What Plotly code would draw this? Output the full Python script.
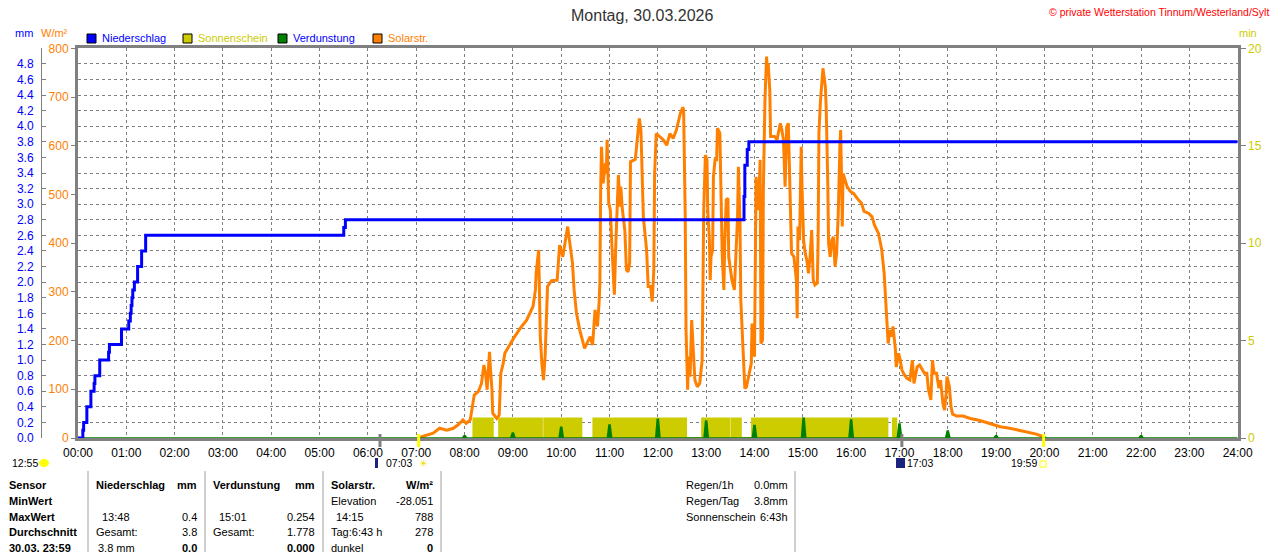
import plotly.graph_objects as go

# the page keeps the browser's 8px body margin, so the figure is 8px smaller
OFF = 8
W, H = 1280 - OFF, 552 - OFF

# ---- data ----
hour_labels = ["%02d:00" % h for h in range(25)]

# precipitation, cumulative mm (step line)
rain_times = ["00:00", "00:06", "00:07", "00:11", "00:16", "00:20", "00:21", "00:27", "00:38",
              "00:39", "00:54", "01:03", "01:05", "01:06", "01:07", "01:08", "01:10", "01:14",
              "01:19", "01:24", "05:30", "05:32", "13:47", "13:48", "13:51", "13:53", "24:00"]
rain_mm = [0, 0.1, 0.2, 0.4, 0.6, 0.7, 0.8, 1.0, 1.1,
           1.2, 1.4, 1.5, 1.6, 1.7, 1.8, 1.9, 2.0, 2.2,
           2.4, 2.6, 2.7, 2.8, 3.1, 3.5, 3.7, 3.8, 3.8]

# sunshine periods (min per minute)
sun_start = ["08:11", "08:43", "09:39", "10:40", "11:49", "12:55", "13:32", "13:57", "16:52"]
sun_end = ["08:35", "09:36", "10:25", "11:47", "12:35", "13:29", "13:43", "16:45", "16:56"]
sun_min = 1

# evaporation, mm per hour
evap_times = ["01:00", "08:00", "09:00", "10:00", "11:00", "12:00", "13:00", "14:00",
              "15:01", "16:00", "17:00", "18:00", "19:00", "20:00", "22:00"]
evap_mm = [0.005, 0.03, 0.065, 0.137, 0.167, 0.24, 0.218, 0.16,
           0.254, 0.23, 0.18, 0.09, 0.03, 0.01, 0.03]

# solar radiation W/m2
solar_times = [
    "07:03", "07:07", "07:21", "07:29", "07:38", "07:46", "07:52", "07:58", "08:02", "08:07",
    "08:09", "08:12", "08:17", "08:21", "08:24", "08:26", "08:28", "08:31", "08:32", "08:34",
    "08:35", "08:40", "08:43", "08:44", "08:45", "08:48", "08:50", "09:01", "09:09", "09:17",
    "09:25", "09:28", "09:29", "09:32", "09:33", "09:34", "09:36", "09:38", "09:40", "09:41",
    "09:43", "09:48", "09:55", "09:58", "10:02", "10:08", "10:11", "10:14", "10:16", "10:19",
    "10:23", "10:29", "10:36", "10:39", "10:42", "10:45", "10:47", "10:48", "10:49", "10:50",
    "10:52", "10:55", "10:56", "10:57", "10:59", "11:01", "11:03", "11:05", "11:06", "11:08",
    "11:10", "11:11", "11:13", "11:14", "11:16", "11:19", "11:21", "11:23", "11:25", "11:26",
    "11:32", "11:34", "11:37", "11:39", "11:42", "11:46", "11:48", "11:51", "11:53", "11:55",
    "11:56", "11:58", "12:02", "12:07", "12:11", "12:15", "12:19", "12:23", "12:28", "12:31",
    "12:32", "12:34", "12:35", "12:37", "12:38", "12:40", "12:42", "12:44", "12:46", "12:49",
    "12:52", "12:55", "12:56", "12:57", "12:59", "13:01", "13:02", "13:04", "13:05", "13:06",
    "13:08", "13:09", "13:11", "13:13", "13:14", "13:17", "13:19", "13:20", "13:22", "13:23",
    "13:25", "13:27", "13:28", "13:31", "13:32", "13:35", "13:37", "13:39", "13:40", "13:42",
    "13:43", "13:46", "13:48", "13:50", "13:53", "13:56", "13:57", "13:59", "14:00", "14:01",
    "14:02", "14:05", "14:07", "14:08", "14:10", "14:11", "14:13", "14:15", "14:16", "14:17",
    "14:19", "14:20", "14:23", "14:25", "14:28", "14:32", "14:34", "14:36", "14:38", "14:40",
    "14:42", "14:44", "14:46", "14:49", "14:52", "14:53", "14:54", "14:56", "14:58", "14:59",
    "15:01", "15:03", "15:05", "15:07", "15:09", "15:11", "15:13", "15:15", "15:18", "15:19",
    "15:20", "15:22", "15:24", "15:25", "15:28", "15:29", "15:31", "15:32", "15:34", "15:36",
    "15:38", "15:40", "15:42", "15:44", "15:46", "15:47", "15:48", "15:49", "15:50", "15:52",
    "15:55", "15:59", "16:03", "16:09", "16:13", "16:16", "16:22", "16:26", "16:29", "16:34",
    "16:38", "16:41", "16:43", "16:45", "16:46", "16:48", "16:50", "16:52", "16:55", "16:56",
    "16:59", "17:01", "17:03", "17:05", "17:09", "17:13", "17:16", "17:18", "17:22", "17:25",
    "17:28", "17:31", "17:34", "17:36", "17:39", "17:41", "17:43", "17:46", "17:49", "17:51",
    "17:54", "17:56", "17:58", "17:59", "18:02", "18:04", "18:06", "18:11", "18:19", "18:28",
    "18:40", "18:52", "19:05", "19:17", "19:38", "19:50", "19:58", "19:59"]
solar_wm2 = [
    0, 3, 10, 20, 16, 20, 27, 37, 30, 37,
    57, 88, 95, 112, 150, 133, 99, 177, 146, 99,
    51, 40, 47, 78, 133, 153, 174, 205, 225, 242,
    270, 304, 341, 386, 311, 208, 153, 119, 167, 235,
    311, 323, 324, 396, 372, 434, 393, 359, 304, 256,
    222, 184, 208, 191, 263, 229, 277, 318, 509, 598,
    523, 564, 543, 612, 482, 468, 393, 318, 294, 406,
    475, 540, 475, 516, 468, 427, 345, 341, 359, 567,
    572, 612, 656, 632, 454, 386, 311, 311, 280, 345,
    543, 625, 619, 612, 601, 625, 615, 632, 667, 679,
    673, 454, 222, 99, 167, 126, 242, 181, 119, 105,
    112, 160, 283, 468, 581, 571, 468, 406, 324, 372,
    386, 536, 571, 571, 636, 626, 454, 372, 304, 400,
    489, 492, 372, 331, 324, 304, 372, 454, 557, 441,
    283, 174, 102, 105, 126, 153, 235, 208, 167, 386,
    536, 468, 571, 194, 201, 509, 694, 783, 755, 769,
    714, 619, 619, 619, 612, 646, 632, 612, 516, 639,
    646, 475, 379, 372, 324, 246, 434, 406, 598, 516,
    406, 379, 365, 338, 372, 427, 324, 314, 318, 406,
    626, 694, 755, 759, 721, 680, 523, 400, 372, 406,
    413, 352, 379, 461, 598, 632, 543, 434, 543, 530,
    516, 506, 502, 489, 482, 465, 461, 454, 437, 420,
    386, 338, 283, 235, 194, 222, 208, 229, 181, 146,
    174, 160, 140, 133, 123, 119, 160, 112, 146, 150,
    140, 133, 133, 99, 78, 160, 133, 133, 102, 119,
    71, 57, 92, 126, 105, 64, 49, 45, 45, 40,
    36, 30, 23, 20, 13, 8, 3, 0]

# sun / moon events below the time axis
event_times = ["06:15", "07:03", "17:03", "19:59"]
event_colors = ["#808080", "#ffff00", "#808080", "#ffff00"]

mm_ticks = [round(0.2 * i, 1) for i in range(25)]
wm2_ticks = list(range(0, 801, 100))
min_ticks = [0, 5, 10, 15, 20]


def hrs(t):
    h, m = t.split(":")
    return int(h) + int(m) / 60.0


# positions below are given in screen pixels
def px(x):
    return (x - OFF) / W


def py(y):
    return 1 - (y - OFF) / H


BLUE = "#0000ff"
ORANGE = "#ff8000"
OLIVE = "#cccc00"
GREEN = "#008000"
GRAY = "#808080"
FONT = "Liberation Sans, Arial, sans-serif"

# sunshine blocks
sx, sy = [], []
for s, e in zip(sun_start, sun_end):
    sx += [hrs(s), hrs(s), hrs(e), hrs(e)]
    sy += [0, sun_min, sun_min, 0]

# evaporation spikes on a zero baseline
ex, ey = [0], [0]
for t, v in zip(evap_times, evap_mm):
    h = hrs(t)
    ex += [h - 0.045, h - 0.012, h + 0.012, h + 0.045]
    ey += [0, v, v, 0]
ex.append(24)
ey.append(0)

fig = go.Figure()

# overlay order: y (sunshine) at the bottom, then y2 (solar), then y3 (mm)
fig.add_trace(go.Scatter(x=sx, y=sy, yaxis="y", mode="lines", fill="tozeroy",
                         fillcolor=OLIVE, line=dict(color=OLIVE, width=2),
                         name="Sonnenschein"))
fig.add_trace(go.Scatter(x=[hrs(t) for t in solar_times], y=solar_wm2, yaxis="y2",
                         mode="lines", line=dict(color=ORANGE, width=3), name="Solarstr."))
fig.add_trace(go.Scatter(x=ex, y=ey, yaxis="y3", mode="lines", fill="tozeroy",
                         fillcolor=GREEN, line=dict(color=GREEN, width=1.5),
                         name="Verdunstung"))
fig.add_trace(go.Scatter(x=[hrs(t) for t in rain_times], y=rain_mm, yaxis="y3",
                         mode="lines", line=dict(color=BLUE, width=3, shape="hv"),
                         name="Niederschlag"))

x0, x1 = 78, 1237.7
ybot, ytop = 438, 48.3
ydom = [py(ybot), py(ytop)]

fig.update_layout(
    width=W, height=H,
    margin=dict(l=0, r=0, t=0, b=0, autoexpand=False),
    paper_bgcolor="white", plot_bgcolor="white",
    showlegend=False,
    font=dict(family=FONT, size=12, color="black"),
    xaxis=dict(domain=[px(x0), px(x1)], range=[0, 24], tickvals=list(range(25)),
               ticktext=hour_labels, showgrid=True, gridcolor=GRAY, griddash="3px,3px",
               gridwidth=1, showline=True, linecolor=GRAY, linewidth=3, mirror=True,
               ticks="", zeroline=False, automargin=False, ticklabelstandoff=2,
               layer="below traces", tickfont=dict(size=12, color="black")),
    yaxis=dict(domain=ydom, range=[0, 20], side="right", tickvals=min_ticks, showgrid=False,
               zeroline=False, showline=True, linecolor=GRAY, linewidth=3, mirror=True,
               ticks="outside", ticklen=5, tickcolor=GRAY, automargin=False,
               tickfont=dict(size=12, color=OLIVE)),
    yaxis2=dict(domain=ydom, range=[0, 800], overlaying="y", anchor="x", side="left",
                tickvals=wm2_ticks, showgrid=False, zeroline=False, showline=False,
                ticks="outside", ticklen=6, tickcolor=GRAY, tickwidth=1, automargin=False,
                tickfont=dict(size=12, color=ORANGE)),
    yaxis3=dict(domain=ydom, range=[0, 5], overlaying="y", anchor="free", side="left",
                position=px(41), tickvals=mm_ticks, tickformat=".1f", showgrid=True,
                gridcolor=GRAY, griddash="3px,3px", gridwidth=1, zeroline=False,
                showline=True, linecolor=GRAY, linewidth=1, ticks="inside", ticklen=4,
                tickcolor=GRAY, automargin=False, ticklabelstandoff=5,
                tickfont=dict(size=12, color=BLUE)),
)

ann = []
shapes = []


def text(x, y, s, color="black", size=11, anchor="left", bold=False):
    if bold:
        s = "<b>%s</b>" % s
    ann.append(dict(x=px(x), y=py(y), xref="paper", yref="paper", text=s, showarrow=False,
                    xanchor=anchor, yanchor="middle", borderpad=0,
                    font=dict(family=FONT, size=size, color=color)))


# title, copyright, axis units
text(642, 16, "Montag, 30.03.2026", color="#333333", size=16, anchor="center")
text(1048, 12, "© private Wetterstation Tinnum/Westerland/Sylt", color="#ff0000", size=10.5)
text(14, 33, "mm", color=BLUE, size=11)
text(40, 33, "W/m²", color=ORANGE, size=11)
text(1238, 33, "min", color=OLIVE, size=11)

# legend
legend = [(91, BLUE, "Niederschlag", BLUE), (187, OLIVE, "Sonnenschein", OLIVE),
          (282, GREEN, "Verdunstung", BLUE), (377, ORANGE, "Solarstr.", ORANGE)]
for lx, fc, lab, tc in legend:
    shapes.append(dict(type="rect", xref="paper", yref="paper", x0=px(lx - 4), x1=px(lx + 5),
                       y0=py(43), y1=py(34), fillcolor=fc, line=dict(color="black", width=1)))
    text(lx + 10, 38, lab, color=tc, size=11)

# sun / moon event marks
for t, c in zip(event_times, event_colors):
    shapes.append(dict(type="line", xref="x", yref="paper", x0=hrs(t), x1=hrs(t),
                       y0=py(447), y1=py(434), line=dict(color=c, width=3)))

text(11, 463, "12:55", size=10.5)
shapes.append(dict(type="circle", xref="paper", yref="paper", x0=px(39), x1=px(49),
                   y0=py(467), y1=py(459), fillcolor="#ffff00", line=dict(width=0)))
shapes.append(dict(type="rect", xref="paper", yref="paper", x0=px(375), x1=px(378),
                   y0=py(468), y1=py(458), fillcolor="#1a237e", line=dict(width=0)))
text(385, 463, "07:03", size=10.5)
text(418, 463, "☀", color="#f0e000", size=10, anchor="left")
shapes.append(dict(type="rect", xref="paper", yref="paper", x0=px(896), x1=px(905),
                   y0=py(468), y1=py(458), fillcolor="#1a237e", line=dict(width=0)))
text(906, 463, "17:03", size=10.5)
text(1010, 463, "19:59", size=10.5)
shapes.append(dict(type="rect", xref="paper", yref="paper", x0=px(1040), x1=px(1046),
                   y0=py(467), y1=py(461), fillcolor="white",
                   line=dict(color="#ffff00", width=1)))

# statistics table
for vx in [88, 205, 323, 441, 795, 1277]:
    shapes.append(dict(type="line", xref="paper", yref="paper", x0=px(vx), x1=px(vx),
                       y0=py(471), y1=py(552), line=dict(color="#a0a0a0", width=1)))

rows_y = [485, 501, 517, 532, 548]
for y, s in zip(rows_y, ["Sensor", "MinWert", "MaxWert", "Durchschnitt", "30.03. 23:59"]):
    text(8, y, s, bold=True)

text(95, rows_y[0], "Niederschlag", bold=True)
text(198, rows_y[0], "mm", bold=True, anchor="right")
text(101, rows_y[2], "13:48")
text(198, rows_y[2], "0.4", anchor="right")
text(95, rows_y[3], "Gesamt:")
text(198, rows_y[3], "3.8", anchor="right")
text(97, rows_y[4], "3.8 mm")
text(198, rows_y[4], "0.0", bold=True, anchor="right")

text(212, rows_y[0], "Verdunstung", bold=True)
text(316, rows_y[0], "mm", bold=True, anchor="right")
text(218, rows_y[2], "15:01")
text(316, rows_y[2], "0.254", anchor="right")
text(212, rows_y[3], "Gesamt:")
text(316, rows_y[3], "1.778", anchor="right")
text(316, rows_y[4], "0.000", bold=True, anchor="right")

text(330, rows_y[0], "Solarstr.", bold=True)
text(434, rows_y[0], "W/m²", bold=True, anchor="right")
text(330, rows_y[1], "Elevation")
text(434, rows_y[1], "-28.051", anchor="right")
text(335, rows_y[2], "14:15")
text(434, rows_y[2], "788", anchor="right")
text(330, rows_y[3], "Tag:6:43 h")
text(434, rows_y[3], "278", anchor="right")
text(330, rows_y[4], "dunkel")
text(434, rows_y[4], "0", bold=True, anchor="right")

for y, a, b in zip(rows_y, ["Regen/1h", "Regen/Tag", "Sonnenschein"],
                   ["0.0mm", "3.8mm", "6:43h"]):
    text(685, y, a)
    text(789, y, b, anchor="right")

fig.update_layout(annotations=ann, shapes=shapes)

fig.write_html("out.html")
